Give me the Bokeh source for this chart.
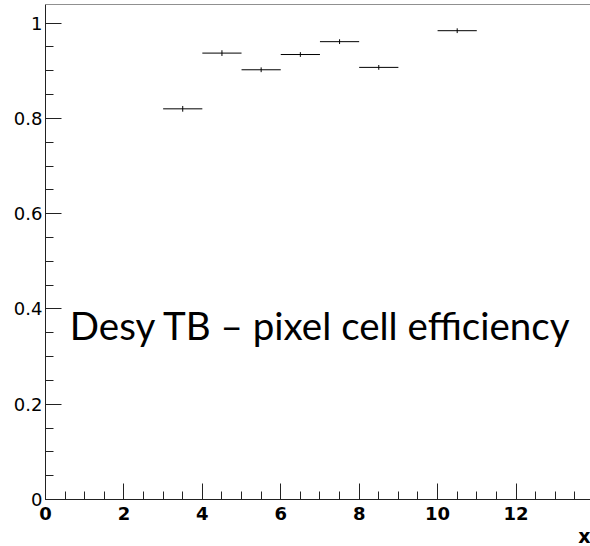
from bokeh.plotting import figure
from bokeh.models import (SingleIntervalTicker, CustomJSTickFormatter, Label, Span, Range1d, Title)
from bokeh.embed import file_html
from bokeh.resources import INLINE

# data
x_centers = [3.5, 4.5, 5.5, 6.5, 7.5, 8.5, 10.5]
x_halfwidth = [0.5, 0.5, 0.5, 0.5, 0.5, 0.5, 0.5]
efficiency = [0.820, 0.937, 0.902, 0.934, 0.961, 0.907, 0.984]
eff_err = [0.006, 0.006, 0.005, 0.005, 0.005, 0.005, 0.005]
title_text = "Desy TB \u2013 pixel cell efficiency"
x_title = "x"

X_END = 13.9
Y_END = 1.039

p = figure(width=590, height=546, output_backend="svg", toolbar_location=None,
           x_range=Range1d(0, X_END), y_range=Range1d(0, Y_END),
           min_border_left=45, min_border_right=0, min_border_top=4, min_border_bottom=46)
p.grid.visible = False
p.outline_line_color = None
p.background_fill_color = "white"

for ax in (p.xaxis[0], p.yaxis[0]):
    ax.axis_line_color = "#222222"
    ax.major_tick_line_color = "#222222"
    ax.minor_tick_line_color = "#222222"
    ax.major_tick_out = 0
    ax.minor_tick_out = 0
    ax.major_tick_in = 16
    ax.minor_tick_in = 8

p.xaxis.ticker = SingleIntervalTicker(interval=2, num_minor_ticks=4)
p.yaxis.ticker = SingleIntervalTicker(interval=0.2, num_minor_ticks=4)
p.yaxis.formatter = CustomJSTickFormatter(code="return String(Math.round(tick*10)/10);")
p.xaxis.formatter = CustomJSTickFormatter(code="return String(Math.round(tick));")

p.yaxis.major_label_text_font = "DejaVu Sans"
p.yaxis.major_label_text_font_size = "18px"
p.yaxis.major_label_text_color = "black"
p.yaxis.major_label_standoff = 3
p.xaxis.major_label_text_font = "DejaVu Sans"
p.xaxis.major_label_text_font_size = "18px"
p.xaxis.major_label_text_font_style = "bold"
p.xaxis.major_label_text_color = "black"
p.xaxis.major_label_standoff = 7

p.add_layout(Span(location=Y_END, dimension="width", line_color="#222222", line_width=1))

x0 = [c - h for c, h in zip(x_centers, x_halfwidth)]
x1 = [c + h for c, h in zip(x_centers, x_halfwidth)]
y0 = [e - d for e, d in zip(efficiency, eff_err)]
y1 = [e + d for e, d in zip(efficiency, eff_err)]
p.segment(x0=x0, y0=efficiency, x1=x1, y1=efficiency, line_color="black", line_width=1)
p.segment(x0=x_centers, y0=y0, x1=x_centers, y1=y1, line_color="black", line_width=1)

p.add_layout(Label(x=0.62, y=0.367, text=title_text, text_font="Lato",
                   text_font_size="38.5px", text_color="black", text_align="left",
                   text_baseline="alphabetic"))

p.add_layout(Title(text=x_title, align="right", text_font="DejaVu Sans",
                   text_font_size="19px", text_font_style="bold", text_color="black",
                   standoff=0, offset=0), "below")

open("out.html", "w").write(file_html(p, INLINE))
